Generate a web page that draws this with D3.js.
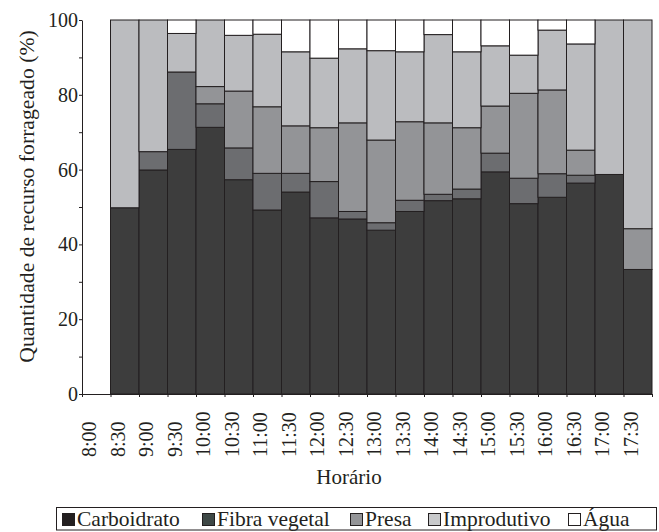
<!DOCTYPE html>
<html>
<head>
<meta charset="utf-8">
<script src="https://cdn.jsdelivr.net/npm/d3@7"></script>
<style>
  body { margin: 0; background: #fff; }
</style>
</head>
<body>
<svg id="chart" width="659" height="532"></svg>
<script>
// Horários (intervalos de 30 min)
var horarios = ['8:00', '8:30', '9:00', '9:30', '10:00', '10:30', '11:00', '11:30', '12:00', '12:30',
  '13:00', '13:30', '14:00', '14:30', '15:00', '15:30', '16:00', '16:30', '17:00', '17:30'];

// Percentuais por categoria
var carboidrato = [0, 49.8, 59.9, 65.4, 71.3, 57.3, 49.2, 54.0, 47.1, 46.8, 43.8, 48.8, 51.7, 52.2, 59.4, 50.9, 52.6, 56.4, 58.7, 33.3];
var fibraVegetal = [0, 0, 4.9, 20.7, 6.3, 8.5, 9.8, 5.0, 9.7, 2.0, 2.0, 3.0, 1.7, 2.6, 5.0, 6.8, 6.3, 2.1, 0, 0];
var presa = [0, 0, 0, 0, 4.6, 15.2, 17.8, 12.7, 14.4, 23.7, 22.1, 21.0, 19.1, 16.4, 12.6, 22.7, 22.4, 6.7, 0, 10.9];
var improdutivo = [0, 50.2, 35.2, 10.3, 17.8, 14.9, 19.4, 19.8, 18.6, 19.8, 23.9, 18.7, 23.6, 20.3, 16.1, 10.2, 16.0, 28.4, 41.3, 55.8];
var agua = [0, 0, 0, 3.6, 0, 4.1, 3.8, 8.5, 10.2, 7.7, 8.2, 8.5, 3.9, 8.5, 6.9, 9.4, 2.7, 6.4, 0, 0];

var seriesNames = ['Carboidrato', 'Fibra vegetal', 'Presa', 'Improdutivo', 'Água'];
var yTicks = [0, 10, 20, 30, 40, 50, 60, 70, 80, 90, 100];

var barColors = ['#3d3d3d', '#6c6d70', '#939497', '#bbbcbf', '#ffffff'];
var legendColors = ['#231f20', '#3e4846', '#939497', '#c8c9cb', '#ffffff'];
var legendX = [62, 202, 350, 428, 568];
var ink = '#231f20';
var serif = '"Liberation Serif", "DejaVu Serif", serif';

var keys = ['c', 'f', 'p', 'i', 'a'];
var table = horarios.map(function(h, i) {
  return {h: h, c: carboidrato[i], f: fibraVegetal[i], p: presa[i], i: improdutivo[i], a: agua[i]};
});

var svg = d3.select('#chart');
var margin = {top: 20, right: 7, bottom: 138, left: 82};
var width = 659 - margin.left - margin.right;
var height = 532 - margin.top - margin.bottom;
var g = svg.append('g').attr('transform', 'translate(' + margin.left + ',' + margin.top + ')');

var x = d3.scaleBand().domain(horarios).range([0, width]).padding(0);
var xEdge = d3.scaleLinear().domain([0, horarios.length]).range([0, width]);
var y = d3.scaleLinear().domain([0, 100]).range([height, 0]);

var layers = d3.stack().keys(keys)(table);

// Bars
layers.forEach(function(layer, k) {
  g.append('g')
    .selectAll('rect')
    .data(layer.filter(function(d) { return d[1] - d[0] > 0; }))
    .enter().append('rect')
    .attr('x', function(d) { return x(d.data.h); })
    .attr('width', x.bandwidth())
    .attr('y', function(d) { return y(d[1]); })
    .attr('height', function(d) { return y(d[0]) - y(d[1]); })
    .attr('fill', barColors[k])
    .attr('stroke', ink)
    .attr('stroke-width', 1);
});

// Y axis
var yAxis = g.append('g')
  .call(d3.axisLeft(y).tickValues(yTicks).tickSize(3).tickSizeOuter(0).tickPadding(1)
    .tickFormat(function(d) { return d % 20 === 0 ? d : ''; }));
yAxis.attr('font-family', null);
yAxis.selectAll('text').style('font-family', serif).style('font-size', '20px').attr('fill', ink);
yAxis.selectAll('line, path').attr('stroke', ink);

// X axis (ticks at interval boundaries)
var xAxis = g.append('g')
  .attr('transform', 'translate(0,' + height + ')')
  .call(d3.axisBottom(xEdge).ticks(horarios.length).tickSize(3).tickSizeOuter(0).tickFormat(''));
xAxis.selectAll('line, path').attr('stroke', ink);

// X labels, rotated
g.append('g')
  .selectAll('text')
  .data(horarios)
  .enter().append('text')
  .attr('transform', function(d) {
    return 'translate(' + (x(d) + x.bandwidth() / 2) + ',' + (height + 63) + ') rotate(-90)';
  })
  .attr('text-anchor', 'start')
  .style('font-family', serif)
  .style('font-size', '20px')
  .attr('fill', ink)
  .text(function(d) { return d; });

// Axis titles
svg.append('text')
  .attr('x', 349)
  .attr('y', 484)
  .attr('text-anchor', 'middle')
  .style('font-family', serif)
  .style('font-size', '21px')
  .attr('fill', ink)
  .text('Horário');

svg.append('text')
  .attr('transform', 'translate(34,196.5) rotate(-90)')
  .attr('text-anchor', 'middle')
  .style('font-family', serif)
  .style('font-size', '21.7px')
  .attr('fill', ink)
  .text('Quantidade de recurso forrageado (%)');

// Legend
var legend = svg.append('g');
legend.append('rect')
  .attr('x', 56.5).attr('y', 507.5)
  .attr('width', 600).attr('height', 22.5)
  .attr('fill', 'none').attr('stroke', ink).attr('stroke-width', 1);

seriesNames.forEach(function(name, k) {
  legend.append('rect')
    .attr('x', legendX[k] + 0.5).attr('y', 513.5)
    .attr('width', 12).attr('height', 12)
    .attr('fill', legendColors[k]).attr('stroke', ink).attr('stroke-width', 1);
  legend.append('text')
    .attr('x', legendX[k] + 15)
    .attr('y', 525.5)
    .style('font-family', serif)
    .style('font-size', '21.5px')
    .attr('fill', ink)
    .text(name);
});
</script>
</body>
</html>
